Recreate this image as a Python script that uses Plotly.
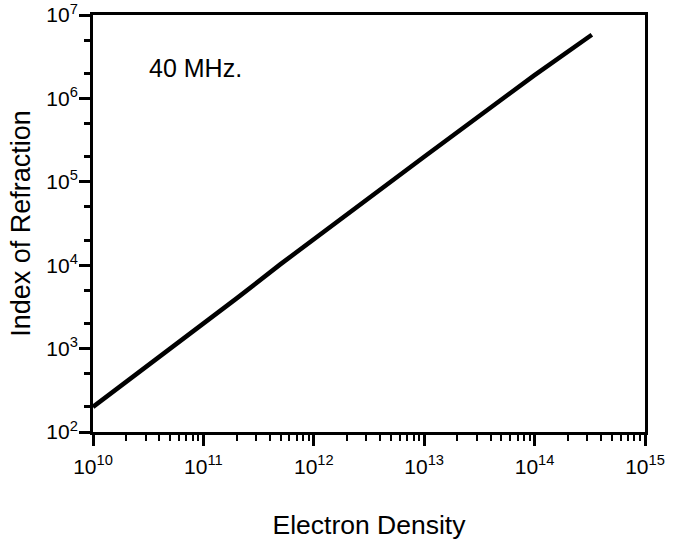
import plotly.graph_objects as go

# Data (log-log)
electron_density = [1e10, 2e10, 5e10, 8e10, 1.1e11, 2e11, 5e11, 1e12, 1e13, 1e14, 3.3e14]
refraction_index = [200, 400, 1000, 1550, 2200, 4000, 1.03e4, 2.05e4, 2.0e5, 1.9e6, 5.8e6]

x_major = [1e10, 1e11, 1e12, 1e13, 1e14, 1e15]
x_major_text = ["10<sup>10</sup>", "10<sup>11</sup>", "10<sup>12</sup>", "10<sup>13</sup>",
                "10<sup>14</sup>", "10<sup>15</sup>"]
y_major = [1e2, 1e3, 1e4, 1e5, 1e6, 1e7]
y_major_text = ["10<sup>2</sup>", "10<sup>3</sup>", "10<sup>4</sup>", "10<sup>5</sup>",
                "10<sup>6</sup>", "10<sup>7</sup>"]
x_minor = [m * 10 ** e for e in range(10, 15) for m in range(2, 10)]
y_minor = [m * 10 ** e for e in range(2, 7) for m in (2, 5)]

annotation_text = "40 MHz."
x_title = "Electron Density"
y_title = "Index of Refraction"

FONT = "Liberation Sans, Arial, sans-serif"

fig = go.Figure()
fig.add_trace(go.Scatter(
    x=electron_density, y=refraction_index, mode="lines",
    line=dict(color="black", width=4.5), showlegend=False,
))

fig.update_layout(
    width=675, height=540,
    margin=dict(l=93, r=30, t=15, b=108),
    paper_bgcolor="white", plot_bgcolor="white",
    font=dict(family=FONT, color="black", size=21),
    xaxis=dict(
        type="log", range=[10, 15], automargin=False,
        tickmode="array", tickvals=x_major, ticktext=x_major_text,
        ticks="outside", ticklen=11, tickwidth=3, tickcolor="black",
        showline=True, linewidth=3, linecolor="black", mirror=True,
        showgrid=False, zeroline=False,
        tickfont=dict(size=21),
        ticklabelstandoff=3,
        minor=dict(tickmode="array", tickvals=x_minor, ticks="outside",
                   ticklen=6, tickwidth=2, tickcolor="black", showgrid=False),
        title=dict(text=x_title, font=dict(size=26.5), standoff=39),
    ),
    yaxis=dict(
        type="log", range=[2, 7], automargin=False,
        tickmode="array", tickvals=y_major, ticktext=y_major_text,
        ticks="outside", ticklen=11, tickwidth=3, tickcolor="black",
        showline=True, linewidth=3, linecolor="black", mirror=True,
        showgrid=False, zeroline=False,
        tickfont=dict(size=21),
        ticklabelstandoff=-3,
        minor=dict(tickmode="array", tickvals=y_minor, ticks="outside",
                   ticklen=6, tickwidth=3, tickcolor="black", showgrid=False),
        title=dict(text=y_title, font=dict(size=27), standoff=8),
    ),
    annotations=[dict(
        x=0.098, y=0.874, xref="paper", yref="paper", xanchor="left", yanchor="middle",
        text=annotation_text, showarrow=False, font=dict(size=25),
    )],
)

fig.write_html(
    "out.html",
    config={"displayModeBar": False},
    post_script="document.body.style.margin='0';document.body.style.padding='0';",
)
